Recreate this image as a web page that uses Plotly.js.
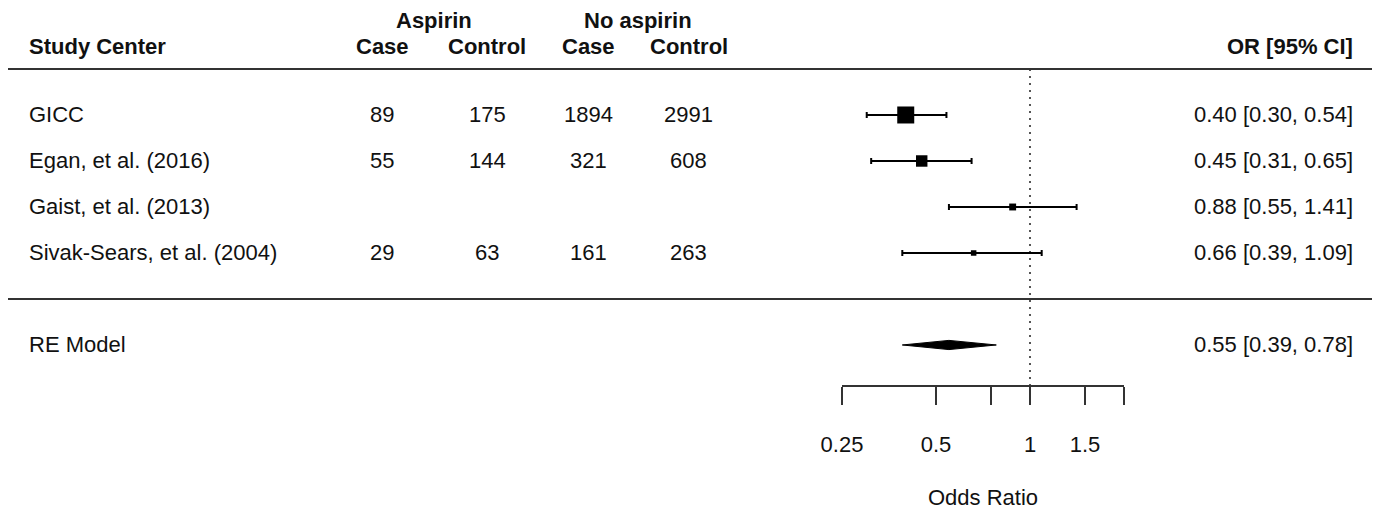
<!DOCTYPE html>
<html>
<head>
<meta charset="utf-8">
<script src="https://cdn.plot.ly/plotly-3.0.1.min.js"></script>
<style>
  html, body { margin: 0; padding: 0; background: #fff; }
  #chart { width: 1376px; height: 510px; }
</style>
</head>
<body>
<div id="chart"></div>
<script>
// Forest plot: aspirin use and odds ratio by study center
const studies      = ['GICC', 'Egan, et al. (2016)', 'Gaist, et al. (2013)', 'Sivak-Sears, et al. (2004)'];
const aspCase      = ['89', '55', '', '29'];
const aspControl   = ['175', '144', '', '63'];
const noAspCase    = ['1894', '321', '', '161'];
const noAspControl = ['2991', '608', '', '263'];
const orEst        = [0.40, 0.45, 0.88, 0.66];
const orLower      = [0.30, 0.31, 0.55, 0.39];
const orUpper      = [0.54, 0.65, 1.41, 1.09];
const modelLabel   = 'RE Model';
const modelEst     = 0.55;
const modelLower   = 0.39;
const modelUpper   = 0.78;
const tickValues   = [0.25, 0.5, 0.75, 1, 1.5, 2];
const tickLabels   = ['0.25', '0.5', '', '1', '1.5', ''];

// row positions (top study highest), summary row below the separator
const rows = studies.map((_, i) => studies.length - i);
const modelRow = -1;

const W = 1376, H = 510;
const px = v => v / W;
const FONT = 'Liberation Sans, Arial, Helvetica, sans-serif';
const INK = '#111111';
const fontBody = { family: FONT, size: 22, color: INK };
const fontBold = { family: FONT, size: 22, color: INK, weight: 'bold' };

// marker size from inverse-variance weight (SE recovered from the CI on the log scale)
const weights = orLower.map((lo, i) => {
  const se = (Math.log(orUpper[i]) - Math.log(lo)) / (2 * 1.96);
  return 1 / (se * se);
});
const rootW = weights.map(Math.sqrt);
const wMin = Math.min(...rootW), wMax = Math.max(...rootW);
const sizes = rootW.map(w => 5.5 + (w - wMin) / (wMax - wMin) * 11.5);

const fmt = v => v.toFixed(2);

const traces = [
  // reference line at OR = 1
  {
    x: [1, 1], y: [5, -1.87], mode: 'lines', type: 'scatter',
    line: { color: '#555', width: 2, dash: '2px,5px' },
    hoverinfo: 'skip', showlegend: false
  },
  // study estimates with 95% CI
  {
    x: orEst, y: rows, type: 'scatter', mode: 'markers',
    marker: { symbol: 'square', size: sizes, color: '#000', opacity: 1, line: { width: 0 } },
    error_x: {
      type: 'data', symmetric: false,
      array: orUpper.map((u, i) => u - orEst[i]),
      arrayminus: orLower.map((l, i) => orEst[i] - l),
      color: '#000', thickness: 2, width: 3
    },
    cliponaxis: false, showlegend: false, hoverinfo: 'x'
  },
  // pooled estimate diamond
  {
    x: [modelLower, modelEst, modelUpper, modelEst, modelLower],
    y: [modelRow, modelRow + 0.1, modelRow, modelRow - 0.1, modelRow],
    type: 'scatter', mode: 'lines', fill: 'toself',
    fillcolor: '#000', line: { color: '#000', width: 1 },
    cliponaxis: false, showlegend: false, hoverinfo: 'skip'
  }
];

const annotations = [];
function addText(text, xPx, y, align, font) {
  annotations.push({
    text: text, x: px(xPx), xref: 'paper', y: y, yref: 'y',
    xanchor: align, yanchor: 'middle', showarrow: false, font: font
  });
}

// column headers
addText('Study Center', 27, 5.5, 'left', fontBold);
addText('Aspirin', 434, 6.05, 'center', fontBold);
addText('No aspirin', 638, 6.05, 'center', fontBold);
addText('Case', 382, 5.5, 'center', fontBold);
addText('Control', 487, 5.5, 'center', fontBold);
addText('Case', 588, 5.5, 'center', fontBold);
addText('Control', 689, 5.5, 'center', fontBold);
addText('OR [95% CI]', 1355, 5.5, 'right', fontBold);

// study rows
studies.forEach((s, i) => {
  const r = rows[i];
  addText(s, 27, r, 'left', fontBody);
  if (aspCase[i]) addText(aspCase[i], 382, r, 'center', fontBody);
  if (aspControl[i]) addText(aspControl[i], 487, r, 'center', fontBody);
  if (noAspCase[i]) addText(noAspCase[i], 588, r, 'center', fontBody);
  if (noAspControl[i]) addText(noAspControl[i], 689, r, 'center', fontBody);
  addText(fmt(orEst[i]) + ' [' + fmt(orLower[i]) + ', ' + fmt(orUpper[i]) + ']', 1355, r, 'right', fontBody);
});

// summary row
addText(modelLabel, 27, modelRow, 'left', fontBody);
addText(fmt(modelEst) + ' [' + fmt(modelLower) + ', ' + fmt(modelUpper) + ']', 1355, modelRow, 'right', fontBody);

const shapes = [5, 0].map(yv => ({
  type: 'line', xref: 'paper', yref: 'y',
  x0: px(8), x1: px(1372), y0: yv, y1: yv,
  line: { color: '#333', width: 2 }
}));

const layout = {
  width: W, height: H,
  margin: { l: 0, r: 0, t: 0, b: 0, pad: 0 },
  paper_bgcolor: '#fff', plot_bgcolor: '#fff',
  showlegend: false,
  xaxis: {
    type: 'log',
    domain: [842 / W, 1124 / W],
    range: [Math.log10(0.25), Math.log10(2)],
    tickvals: tickValues, ticktext: tickLabels,
    ticks: 'outside', ticklen: 18, tickwidth: 1.6, tickcolor: '#333',
    ticklabelstandoff: 21,
    showline: true, linecolor: '#333', linewidth: 1.6,
    showgrid: false, zeroline: false,
    tickfont: fontBody,
    title: { text: 'Odds Ratio', font: fontBody, standoff: 39 },
    automargin: false, fixedrange: true
  },
  yaxis: {
    domain: [1 - 385 / H, 1],
    range: [-1.87, 6.5],
    visible: false, showgrid: false, zeroline: false, fixedrange: true
  },
  shapes: shapes,
  annotations: annotations
};

Plotly.newPlot('chart', traces, layout, { staticPlot: true, displayModeBar: false });
</script>
</body>
</html>
